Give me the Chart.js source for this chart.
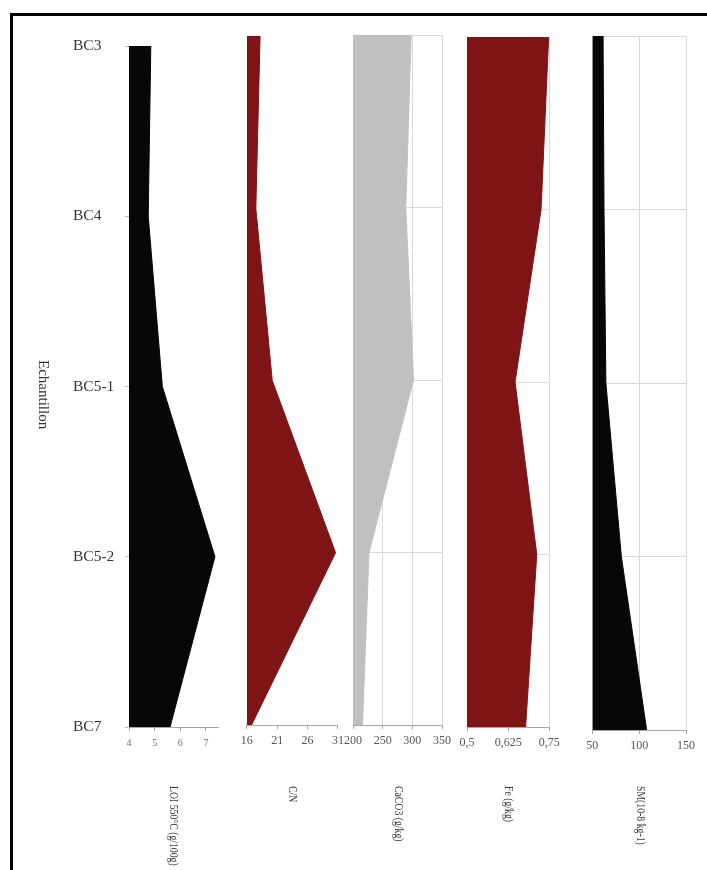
<!DOCTYPE html>
<html><head><meta charset="utf-8">
<script src="https://cdn.jsdelivr.net/npm/chart.js@4.4.0/dist/chart.umd.min.js"></script>
<style>
html,body{margin:0;padding:0;background:#fff;}
#wrap{position:relative;width:707px;height:870px;overflow:hidden;background:#fff;}
#frame{position:absolute;left:10px;top:13px;width:760px;height:900px;border:3px solid #000;box-sizing:border-box;}
canvas{position:absolute;left:0;top:0;}
.vt{position:absolute;writing-mode:vertical-rl;font-family:'Liberation Serif',serif;color:#3a3a3a;white-space:nowrap;transform-origin:0 0;}
.tt{font-size:12.5px;transform:translateX(-50%) scaleY(0.78);}
</style></head><body>
<div id="wrap">
<div id="frame"></div>
<canvas id="c0" width="707" height="870"></canvas>
<canvas id="c1" width="707" height="870"></canvas>
<canvas id="c2" width="707" height="870"></canvas>
<canvas id="c3" width="707" height="870"></canvas>
<canvas id="c4" width="707" height="870"></canvas>
<div class="vt" style="left:43px;top:360px;font-size:15px;color:#333;transform:translateX(-50%);">Echantillon</div>
<div class="vt tt" style="left:173px;top:786px;">LOI 550°C (g/100g)</div>
<div class="vt tt" style="left:292px;top:786px;">C/N</div>
<div class="vt tt" style="left:398px;top:786px;">CaCO3 (g/kg)</div>
<div class="vt tt" style="left:508px;top:786px;">Fe (g/kg)</div>
<div class="vt tt" style="left:640px;top:786px;">SM(10-8 kg-1)</div>
</div>
<script>
// ---- data ----
const categories = ['BC3', 'BC4', 'BC5-1', 'BC5-2', 'BC7'];
const loi   = [4.85, 4.75, 5.3, 7.35, 5.6];
const cn    = [18.2, 17.5, 20.2, 30.6, 16.8];
const caco3 = [298, 289, 302, 227, 216];
const fe    = [0.748, 0.725, 0.646, 0.712, 0.678];
const sm    = [61.5, 62.5, 64.5, 81, 108];
const loiTicks   = [4, 5, 6, 7];
const cnTicks    = [16, 21, 26, 31];
const caco3Ticks = [200, 250, 300, 350];
const feTicks    = [0.5, 0.625, 0.75];
const smTicks    = [50, 100, 150];

Chart.defaults.font.family = "'Liberation Serif', serif";
Chart.defaults.animation = false;

const W = 707, H = 870;
const XH = 30; // forced x-axis height

function makePanel(id, cfg) {
  const yW = cfg.showY ? cfg.left - 73 : 0;
  const padLeft = cfg.left - yW;
  new Chart(document.getElementById(id), {
    type: 'line',
    data: {
      labels: categories,
      datasets: [{
        data: cfg.values,
        fill: { value: cfg.min },
        backgroundColor: cfg.color,
        borderColor: cfg.color,
        borderWidth: 1,
        pointRadius: 0,
        tension: 0
      }]
    },
    options: {
      responsive: false,
      indexAxis: 'y',
      plugins: { legend: { display: false }, tooltip: { enabled: false } },
      layout: { padding: { left: padLeft, right: W - cfg.right, top: cfg.top, bottom: H - cfg.bottom - XH } },
      scales: {
        x: {
          type: 'linear',
          position: 'bottom',
          min: cfg.min, max: cfg.max,
          afterFit: s => { s.height = XH; },
          afterBuildTicks: s => { s.ticks = cfg.ticks.map(v => ({ value: v })); },
          border: { display: true, color: '#a6a6a6', width: 1 },
          grid: { display: true, drawOnChartArea: cfg.grid, color: '#d9d9d9', tickColor: '#a6a6a6', tickLength: 4, lineWidth: 1 },
          ticks: {
            padding: cfg.tickPad,
            maxRotation: 0,
            autoSkip: false,
            color: cfg.tickColor,
            font: { size: cfg.tickSize },
            callback: v => String(v).replace('.', ',')
          }
        },
        y: {
          type: 'category',
          offset: false,
          afterFit: s => { s.width = yW; },
          border: { display: false },
          grid: cfg.showY
            ? { display: true, drawOnChartArea: false, drawTicks: true, tickLength: 4, tickColor: '#bfbfbf' }
            : { display: cfg.grid, drawOnChartArea: true, drawTicks: false, color: '#d9d9d9' },
          ticks: cfg.showY
            ? { display: true, crossAlign: 'far', color: '#333', font: { size: 15.5 }, padding: 4 }
            : { display: false }
        }
      }
    }
  });
}

makePanel('c0', { values: loi,   color: '#060709', min: 4,   max: 7.5,  ticks: loiTicks,   left: 129,   right: 218.8, top: 46, bottom: 727, showY: true,  grid: false, tickSize: 10, tickPad: 6, tickColor: '#6f6f6f' });
makePanel('c1', { values: cn,    color: '#7f1416', min: 16,  max: 31,   ticks: cnTicks,    left: 246.7, right: 338,   top: 36, bottom: 725, showY: false, grid: false, tickSize: 12, tickPad: 5, tickColor: '#555' });
makePanel('c2', { values: caco3, color: '#c0c0c0', min: 200, max: 350,  ticks: caco3Ticks, left: 353,   right: 442,   top: 35, bottom: 725, showY: false, grid: true,  tickSize: 12, tickPad: 5, tickColor: '#555' });
makePanel('c3', { values: fe,    color: '#7f1416', min: 0.5, max: 0.75, ticks: feTicks,    left: 467,   right: 549.3, top: 37, bottom: 727, showY: false, grid: true,  tickSize: 12, tickPad: 5, tickColor: '#555' });
makePanel('c4', { values: sm,    color: '#060709', min: 50,  max: 150,  ticks: smTicks,    left: 592.3, right: 686,   top: 36, bottom: 730, showY: false, grid: true,  tickSize: 12, tickPad: 5, tickColor: '#555' });
</script>
</body></html>
